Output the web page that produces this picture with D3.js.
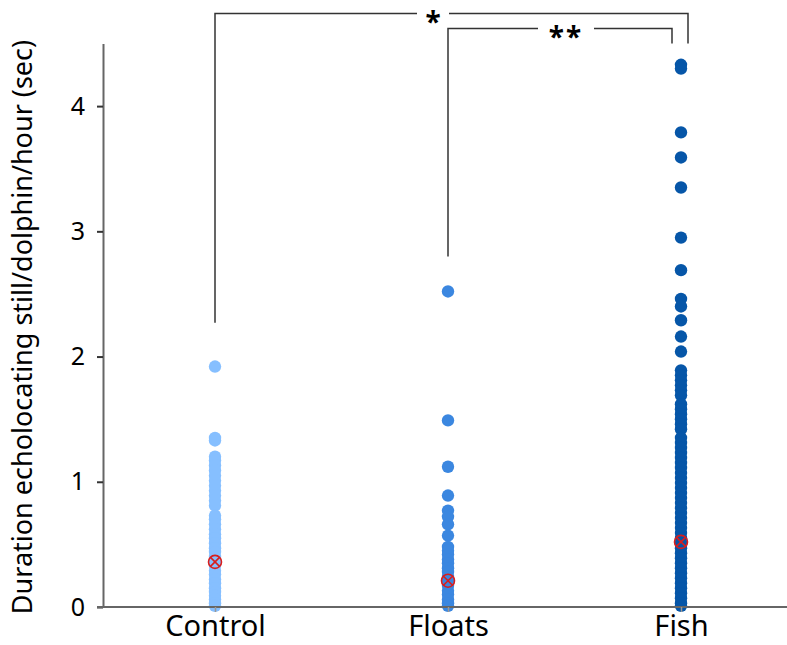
<!DOCTYPE html>
<html lang="en">
<head>
<meta charset="UTF-8">
<title>Echolocation duration</title>
<script src="https://d3js.org/d3.v7.min.js"></script>
<style>
  body { margin: 0; background: #fff; }
  text { font-family: "Noto Sans", "DejaVu Sans", sans-serif; fill: #000; }
</style>
</head>
<body>
<script>
// categories and values
var categories = ["Control", "Floats", "Fish"];
var colors = ["#86bfff", "#3b87e0", "#0656a8"];

var controlValues = [1.92, 1.35, 1.33, 1.20, 1.17, 1.13, 1.09, 1.05, 1.01, 0.97, 0.93, 0.89, 0.85, 0.81,
  0.73, 0.70, 0.66, 0.62, 0.58, 0.55, 0.51, 0.47, 0.44, 0.40, 0.36, 0.33, 0.29, 0.26, 0.22, 0.19,
  0.15, 0.12, 0.09, 0.06, 0.03, 0.01];
var floatsValues = [2.52, 1.49, 1.12, 0.89, 0.77, 0.72, 0.66, 0.57, 0.48, 0.45, 0.42, 0.38, 0.35,
  0.31, 0.28, 0.24, 0.21, 0.17, 0.13, 0.10, 0.06, 0.03, 0.01];
var fishValues = [4.33, 4.30, 3.79, 3.59, 3.35, 2.95, 2.69, 2.46, 2.40, 2.29, 2.16, 2.04, 1.89, 1.85,
  1.81, 1.77, 1.73, 1.69, 1.62, 1.58, 1.54, 1.50, 1.46, 1.42, 1.35, 1.31, 1.27, 1.23, 1.19, 1.15,
  1.11, 1.07, 1.03, 0.99, 0.95, 0.91, 0.87, 0.83, 0.79, 0.75, 0.71, 0.67, 0.63, 0.59, 0.55, 0.51,
  0.47, 0.43, 0.39, 0.35, 0.31, 0.27, 0.23, 0.19, 0.15, 0.11, 0.07, 0.03, 0.01];
var medians = [0.36, 0.21, 0.52];
var yTicks = [0, 1, 2, 3, 4];

// significance brackets: from/to category, top level and where each leg stops (data units)
var brackets = [
  { from: "Control", to: "Fish", top: 4.74, leftEnd: 2.27, rightEnd: 4.50, rightShift: 7, label: "*", gap: [417, 449] },
  { from: "Floats", to: "Fish", top: 4.62, leftEnd: 2.80, rightEnd: 4.50, rightShift: -9, label: "**", gap: [538, 594] }
];

var width = 787, height = 645;

var svg = d3.select("body")
  .append("svg")
  .attr("width", width)
  .attr("height", height);

var x = d3.scalePoint()
  .domain(categories)
  .range([215, 681]);

var y = d3.scaleLinear()
  .domain([0, 4.5])
  .range([607, 43.5]);

// dots
var groups = [controlValues, floatsValues, fishValues];
groups.forEach(function(vals, i) {
  svg.append("g")
    .selectAll("circle")
    .data(vals)
    .enter()
    .append("circle")
    .attr("cx", x(categories[i]))
    .attr("cy", function(d) { return y(d); })
    .attr("r", 6.2)
    .style("fill", colors[i]);
});

// median markers (circle with a cross)
var med = svg.append("g").selectAll("g")
  .data(medians)
  .enter()
  .append("g")
  .attr("transform", function(d, i) { return "translate(" + x(categories[i]) + "," + y(d) + ")"; })
  .style("stroke", "#d81e1e")
  .style("stroke-width", 1.6)
  .style("fill", "none");
med.append("circle").attr("r", 6.5);
med.append("line").attr("x1", -4.5).attr("y1", -4.5).attr("x2", 4.5).attr("y2", 4.5);
med.append("line").attr("x1", -4.5).attr("y1", 4.5).attr("x2", 4.5).attr("y2", -4.5);

// y axis
var yAxis = svg.append("g")
  .attr("transform", "translate(103,0)")
  .call(d3.axisLeft(y).tickValues(yTicks).tickFormat(d3.format("d"))
    .tickSize(6).tickSizeOuter(0).tickPadding(12));
yAxis.select(".domain").style("stroke", "#666").style("stroke-width", 2);
yAxis.selectAll(".tick line").style("stroke", "#333").style("stroke-width", 2);
yAxis.selectAll(".tick text")
  .style("font-size", "25px")
  .style("font-family", "'Noto Sans', sans-serif")
  .attr("fill", "#000");

// x axis
var xAxis = svg.append("g")
  .attr("transform", "translate(0,607)")
  .call(d3.axisBottom(x).tickSize(5).tickSizeOuter(0).tickPadding(3));
xAxis.select(".domain").attr("d", "M97,0H787").style("stroke", "#666").style("stroke-width", 2);
xAxis.selectAll(".tick line").style("stroke", "#999").style("stroke-width", 1.5);
xAxis.selectAll(".tick text")
  .style("font-size", "29px")
  .style("font-family", "'Noto Sans', sans-serif")
  .attr("fill", "#000");

// y title
svg.append("text")
  .attr("transform", "translate(32,327) rotate(-90)")
  .attr("text-anchor", "middle")
  .style("font-size", "27px")
  .text("Duration echolocating still/dolphin/hour (sec)");

// brackets
brackets.forEach(function(b) {
  var x1 = x(b.from), x2 = x(b.to) + b.rightShift, yt = y(b.top);
  var g = svg.append("g").style("stroke", "#333").style("stroke-width", 1.5).style("fill", "none");
  g.append("path").attr("d", "M" + x1 + "," + y(b.leftEnd) + "V" + yt + "H" + b.gap[0]);
  g.append("path").attr("d", "M" + b.gap[1] + "," + yt + "H" + x2 + "V" + y(b.rightEnd));
  svg.append("text")
    .attr("x", (b.gap[0] + b.gap[1]) / 2)
    .attr("y", yt + 19)
    .attr("text-anchor", "middle")
    .style("font-size", "28px")
    .style("font-weight", "bold")
    .style("letter-spacing", b.label.length > 1 ? "2px" : "0px")
    .text(b.label);
});
</script>
</body>
</html>
